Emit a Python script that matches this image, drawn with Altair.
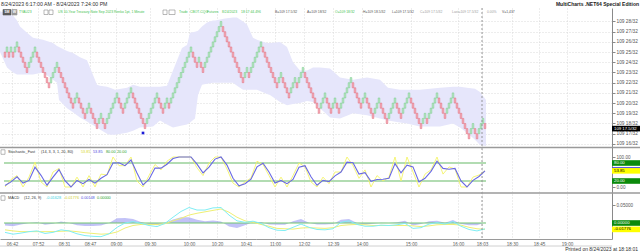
import json
import altair as alt
import pandas as pd

FONT = "Liberation Sans"

# ---------------- data ----------------
# Renko bricks (box = 0.5/32): bottom of each brick, in 64ths above 109
brick_low_64ths = [
    49, 50, 49, 50, 49, 50, 51, 50, 49, 48,
    47, 46, 47, 48, 49, 50, 49, 48, 47, 46,
    45, 44, 43, 44, 45, 46, 47, 46, 45, 44,
    43, 42, 41, 40, 39, 40, 41, 40, 39, 38,
    37, 38, 39, 38, 37, 36, 35, 36, 37, 36,
    35, 36, 37, 38, 39, 40, 41, 40, 39, 38,
    39, 40, 41, 42, 41, 40, 39, 38, 37, 36,
    35, 36, 37, 38, 39, 40, 41, 40, 39, 38,
    39, 40, 39, 40, 41, 42, 43, 44, 45, 46,
    47, 48, 49, 50, 49, 48, 47, 48, 47, 46,
    47, 48, 49, 50, 51, 52, 53, 54, 55, 54,
    53, 52, 51, 50, 49, 48, 47, 46, 45, 44,
    45, 46, 45, 46, 47, 48, 49, 50, 51, 50,
    49, 48, 47, 46, 45, 44, 43, 44, 45, 44,
    43, 42, 41, 42, 43, 44, 43, 44, 45, 46,
    45, 44, 43, 42, 41, 40, 39, 38, 39, 40,
    41, 40, 39, 38, 39, 40, 39, 38, 39, 40,
    41, 42, 43, 44, 43, 42, 41, 40, 39, 40,
    41, 40, 39, 38, 37, 38, 39, 40, 39, 38,
    37, 36, 37, 38, 39, 40, 39, 38, 37, 38,
    39, 40, 41, 40, 39, 38, 37, 36, 35, 36,
    37, 36, 37, 38, 39, 40, 41, 40, 39, 38,
    37, 38, 39, 40, 41, 40, 39, 38, 37, 36,
    35, 34, 33, 34, 35, 34, 33, 34, 35, 36,
    35,
]

# Bollinger-style envelope (in 32nds above 109) at bar positions
band_bar = [
    -2, 1.5, 4.5, 6.5, 8, 11.5, 14.5, 19.5, 24.5, 26.5,
    27.5, 31.5, 34.5, 38, 41.5, 43, 44, 46.5, 48, 51.5,
    53, 55.5, 61.5, 64.5, 68, 74.5, 78, 81.5, 84.5, 89,
    91.5, 93, 95.5, 97, 99, 101.5, 104.5, 105.5, 110.5, 114.5,
    116.5, 119.5, 121.5, 124.5, 126.5, 131.5, 133, 138, 141.5, 144.5,
    148, 151.5, 154.5, 158, 163, 168, 174.5, 181.5, 188, 192,
    198, 201.5, 208, 218, 224.5, 228, 231.5, 235.5, 238, 241,
]
band_upper_32 = [
    29.0, 28.8, 28.6, 28.1, 27.5, 26.9, 26.4, 26.2, 25.9, 25.6,
    25.5, 25.1, 24.9, 24.5, 24.2, 23.5, 23.0, 21.8, 21.7, 21.6,
    21.5, 21.3, 21.5, 21.8, 21.6, 21.6, 21.6, 21.7, 23.2, 25.4,
    25.7, 26.9, 27.0, 27.1, 27.5, 27.9, 28.1, 28.1, 28.3, 28.4,
    28.4, 28.0, 27.7, 26.4, 26.2, 25.9, 25.9, 26.0, 25.5, 24.0,
    23.2, 23.2, 23.5, 23.5, 23.4, 22.5, 22.3, 22.5, 22.3, 21.5,
    21.3, 21.3, 21.3, 21.5, 21.6, 21.6, 21.5, 21.4, 21.1, 20.3,
]
band_lower_32 = [
    25.0, 23.5, 23.0, 22.8, 22.8, 22.8, 22.8, 23.0, 22.3, 22.0,
    20.3, 19.5, 19.1, 18.6, 18.2, 18.0, 17.9, 17.6, 17.4, 17.0,
    16.9, 16.9, 17.1, 17.3, 17.6, 17.7, 18.3, 17.9, 17.6, 17.8,
    17.9, 18.1, 18.5, 20.8, 21.8, 21.9, 22.0, 22.0, 22.0, 22.0,
    21.7, 21.3, 21.3, 21.3, 21.3, 20.9, 20.8, 20.1, 19.8, 19.9,
    20.0, 20.2, 20.1, 19.5, 18.6, 18.5, 19.0, 18.8, 18.5, 18.3,
    18.1, 18.0, 17.7, 17.7, 18.0, 17.6, 17.1, 16.4, 15.9, 15.8,
]

signal_dot_bar = [69.5]
signal_dot_32 = [17.07]
last_price_32 = 17.5
price_ticks_32 = [16, 17, 18, 19, 20, 21, 22, 23, 24, 25, 26, 27, 28]

# Stochastic_Fast, sampled every third brick
stoch_bar = list(range(0, 241, 3))
stoch_fastk = [
    0, 25, 38, 0, 33, 83, 17, 0, 50, 62,
    0, 0, 33, 0, 38, 0, 43, 40, 100, 71,
    71, 100, 20, 0, 38, 75, 57, 86, 100, 100,
    100, 100, 64, 38, 80, 100, 100, 60, 13, 0,
    17, 30, 86, 75, 38, 0, 33, 0, 38, 80,
    67, 17, 0, 33, 11, 50, 50, 100, 71, 29,
    57, 0, 38, 20, 33, 100, 20, 100, 50, 0,
    43, 57, 100, 43, 67, 60, 0, 0, 33, 40,
    54,
]
stoch_fastd = [
    5, 17, 34, 13, 22, 66, 39, 6, 33, 58,
    21, 0, 22, 11, 25, 13, 29, 41, 80, 81,
    71, 90, 47, 7, 25, 63, 63, 76, 95, 100,
    100, 100, 76, 47, 66, 93, 100, 73, 29, 4,
    11, 26, 67, 79, 50, 13, 22, 11, 25, 66,
    71, 34, 6, 22, 18, 37, 50, 83, 81, 43,
    48, 19, 25, 26, 29, 78, 47, 73, 67, 17,
    29, 52, 86, 62, 59, 62, 20, 0, 22, 35,
    54,
]
stoch_levels = [80, 20]
stoch_last_k = 53.85
stoch_last_d = 53.85

# MACD (12, 26, 9), sampled every fourth brick
macd_bar = list(range(0, 241, 4))
macd_line = [
    -0.026, -0.031, -0.028, -0.024, -0.022, -0.029, -0.026, -0.019, -0.022, -0.030,
    -0.035, -0.037, -0.038, -0.030, -0.012, 0.000, 0.004, -0.001, -0.007, -0.010,
    -0.001, 0.016, 0.032, 0.043, 0.036, 0.036, 0.042, 0.043, 0.022, 0.006,
    0.002, 0.005, -0.001, -0.013, -0.020, -0.021, -0.012, -0.003, -0.012, -0.018,
    -0.019, -0.016, 0.002, 0.006, -0.004, -0.009, -0.009, -0.006, -0.007, -0.005,
    -0.001, -0.015, -0.013, -0.003, 0.001, -0.003, 0.004, -0.009, -0.018, -0.022,
    -0.01628,
]
macd_signal = [
    -0.019, -0.022, -0.024, -0.024, -0.024, -0.024, -0.024, -0.023, -0.022, -0.024,
    -0.027, -0.029, -0.031, -0.030, -0.025, -0.014, -0.007, -0.004, -0.004, -0.004,
    -0.002, 0.006, 0.013, 0.022, 0.027, 0.031, 0.035, 0.039, 0.030, 0.016,
    0.006, 0.002, -0.004, -0.009, -0.015, -0.016, -0.017, -0.014, -0.013, -0.014,
    -0.015, -0.013, -0.007, -0.005, -0.004, -0.005, -0.007, -0.007, -0.007, -0.007,
    -0.007, -0.008, -0.010, -0.008, -0.005, -0.004, -0.004, -0.006, -0.012, -0.016,
    -0.01776,
]
macd_hist = [
    -0.007, -0.009, -0.004, 0.000, 0.002, -0.005, -0.002, 0.004, 0.000, -0.006,
    -0.008, -0.008, -0.007, 0.000, 0.013, 0.014, 0.011, 0.003, -0.003, -0.006,
    0.001, 0.010, 0.016, 0.016, 0.009, 0.005, 0.007, 0.004, -0.010, -0.014,
    -0.006, 0.003, 0.003, -0.004, -0.005, -0.005, 0.005, 0.011, 0.001, -0.004,
    -0.004, -0.003, 0.009, 0.011, 0.000, -0.004, -0.002, 0.001, 0.000, 0.002,
    0.006, -0.007, -0.003, 0.005, 0.006, 0.001, 0.008, -0.003, -0.006, -0.006,
    0.00148,
]
macd_zero = 0.0

# time scale
time_tick_bar = [4, 17, 30, 43, 56, 73, 92.5, 106.5, 121, 135.5, 150, 164.5,
                 179, 203.5, 227, 239, 254, 267.5, 281.5]
time_tick_label = ["06:42", "07:52", "08:31", "08:47", "09:00", "09:30", "10:00",
                   "10:20", "10:41", "11:00", "12:02", "12:39", "14:00", "15:00",
                   "16:00", "18:03", "18:30", "18:45", "19:00"]
session_break_bar = [239]

# ---------------- layout ----------------
W, H = 612, 231  # plot area: absolute y 8 .. 239
xs = alt.Scale(domain=[-2, 304], nice=False, zero=False)
price_scale = alt.Scale(domain=[6.676, 29.3235], nice=False, zero=False)
stoch_scale = alt.Scale(domain=[-173.333, 596.667], nice=False, zero=False)
macd_scale = alt.Scale(domain=[-0.044444, 0.597222], nice=False, zero=False)

GRID = dict(gridColor="#d2d2d2", gridDash=[1, 2], gridWidth=0.8)
x_label_expr = f"{json.dumps(time_tick_label)}[indexof({json.dumps(time_tick_bar)}, datum.value)]"
X_AXIS = alt.Axis(values=time_tick_bar, labelExpr=x_label_expr, grid=True, ticks=False,
                  domainColor="#9a9a9a", labelFontSize=4.6, labelColor="#555555",
                  labelFont=FONT, labelPadding=2, title=None, labelOverlap=False,
                  labelFlush=False, **GRID)
PRICE_AXIS = alt.Axis(orient="right", values=price_ticks_32,
                      labelExpr="'109 ' + datum.value + '/32'", grid=True, tickSize=3,
                      tickColor="#8a8a8a", domainColor="#8a8a8a", labelFontSize=4.8,
                      labelColor="#555555", labelFont=FONT, labelPadding=1, title=None,
                      offset=0, labelOverlap=False, labelFlush=False, **GRID)
STOCH_AXIS = alt.Axis(orient="right", values=[0, 100], format=".2f", grid=False,
                      domain=False, tickSize=3, tickColor="#8a8a8a", labelFontSize=4.6,
                      labelColor="#555555", labelFont=FONT, labelPadding=1, title=None,
                      offset=0, labelOverlap=False, labelFlush=False)
MACD_AXIS = alt.Axis(orient="right", values=[0.05], format=".5f", grid=False,
                     domain=False, tickSize=3, tickColor="#8a8a8a", labelFontSize=4.6,
                     labelColor="#555555", labelFont=FONT, labelPadding=1, title=None,
                     offset=0, labelOverlap=False, labelFlush=False)


def X(f):
    return alt.X(f, type="quantitative", scale=xs, axis=X_AXIS)


def PY(f):
    return alt.Y(f, type="quantitative", scale=price_scale, axis=PRICE_AXIS)


def SY(f):
    return alt.Y(f, type="quantitative", scale=stoch_scale, axis=STOCH_AXIS)


def MY(f):
    return alt.Y(f, type="quantitative", scale=macd_scale, axis=MACD_AXIS)


BOX = "M-1,-0.2H1V0.2H-1Z"


def value_box(value, label, bg, fg, yfn):
    d = pd.DataFrame({"v": [value], "t": [label]})
    b = alt.Chart(d).mark_point(shape=BOX, size=784, filled=True, opacity=1,
                                color=bg, strokeWidth=0).encode(x=alt.value(626), y=yfn("v"))
    t = alt.Chart(d).mark_text(font=FONT, fontSize=4.3, color=fg, align="left",
                               baseline="middle").encode(x=alt.value(614), y=yfn("v"),
                                                         text="t:N")
    return [b, t]


# ---------------- price panel ----------------
bricks = pd.DataFrame({"bar": list(range(len(brick_low_64ths))), "low64": brick_low_64ths})
bricks["lo"] = bricks["low64"] / 2.0
bricks["hi"] = (bricks["low64"] + 1) / 2.0
prev = [None] + brick_low_64ths[:-1]
bricks["dir"] = ["up" if (p is not None and c > p) else "down"
                 for c, p in zip(brick_low_64ths, prev)]
bricks["x0"] = bricks["bar"] + 0.1
bricks["x1"] = bricks["bar"] + 0.9

band = pd.DataFrame({"bar": band_bar, "up": band_upper_32, "lo": band_lower_32})

band_layer = alt.Chart(band).mark_area(color="#e6e6fb", opacity=1).encode(
    x=X("bar"), y=PY("lo"), y2=alt.Y2("up"))
brick_layer = alt.Chart(bricks).mark_rect(strokeWidth=0.55).encode(
    x=X("x0"), x2=alt.X2("x1"), y=PY("lo"), y2=alt.Y2("hi"),
    fill=alt.Fill("dir:N", scale=alt.Scale(domain=["up", "down"],
                                           range=["#c2eaca", "#f6b4bd"]), legend=None),
    stroke=alt.Stroke("dir:N", scale=alt.Scale(domain=["up", "down"],
                                               range=["#74c987", "#e2687b"]), legend=None))
dot_layer = alt.Chart(pd.DataFrame({"bar": signal_dot_bar, "p": signal_dot_32})).mark_square(
    size=7, color="#1c1cd8", opacity=1).encode(x=X("bar"), y=PY("p"))

price_group = alt.layer(band_layer, brick_layer, dot_layer,
                        *value_box(last_price_32, "109 17.5/32", "#000000", "#ffffff", PY))

# ---------------- stochastic panel ----------------
st = pd.DataFrame({"bar": stoch_bar, "k": stoch_fastk, "d": stoch_fastd})
st["x"] = st["bar"] + 0.5
lv = pd.DataFrame({"level": stoch_levels, "x0": [0] * len(stoch_levels),
                   "x1": [len(brick_low_64ths)] * len(stoch_levels)})
lv_layer = alt.Chart(lv).mark_rule(color="#b2dcb2", strokeWidth=1.8).encode(
    x=X("x0"), x2=alt.X2("x1"), y=SY("level"))
k_layer = alt.Chart(st).mark_line(color="#f4f46a", strokeWidth=0.9).encode(x=X("x"), y=SY("k"))
d_layer = alt.Chart(st).mark_line(color="#6868e4", strokeWidth=1.1).encode(x=X("x"), y=SY("d"))
stoch_group = alt.layer(
    lv_layer, k_layer, d_layer,
    *value_box(stoch_levels[0], f"{stoch_levels[0]:.2f}", "#0b8a0b", "#ffffff", SY),
    *value_box(stoch_last_d + 3, "", "#4040e0", "#ffffff", SY),
    *value_box(stoch_last_k, f"{stoch_last_k:.2f}", "#ffff00", "#000000", SY),
    *value_box(stoch_levels[1], f"{stoch_levels[1]:.2f}", "#0b8a0b", "#ffffff", SY),
)

# ---------------- MACD panel ----------------
md = pd.DataFrame({"bar": macd_bar, "m": macd_line, "s": macd_signal, "h": macd_hist})
md["x"] = md["bar"] + 0.5
md["zero"] = macd_zero
zr = pd.DataFrame({"z": [macd_zero], "x0": [0], "x1": [len(brick_low_64ths)]})
hist_layer = alt.Chart(md).mark_area(color="#9a9af2", opacity=0.6).encode(
    x=X("x"), y=MY("h"), y2=alt.Y2("zero"))
zero_layer = alt.Chart(zr).mark_rule(color="#70c470", strokeWidth=1.0).encode(
    x=X("x0"), x2=alt.X2("x1"), y=MY("z"))
sig_layer = alt.Chart(md).mark_line(color="#efef74", strokeWidth=1.0).encode(x=X("x"), y=MY("s"))
mac_layer = alt.Chart(md).mark_line(color="#80eef4", strokeWidth=1.0).encode(x=X("x"), y=MY("m"))
macd_group = alt.layer(
    hist_layer, zero_layer, sig_layer, mac_layer,
    *value_box(macd_zero, f"{macd_zero:.5f}", "#0b8a0b", "#ffffff", MY),
    *value_box(macd_signal[-1], f"{macd_signal[-1]:.5f}", "#ffff00", "#000000", MY),
)

# ---------------- chrome (titles, header rows, separators) ----------------
session_layer = alt.Chart(pd.DataFrame({"bar": session_break_bar})).mark_rule(
    color="#8c8c8c", strokeDash=[2, 2], strokeWidth=0.9).encode(
    x=X("bar"), y=alt.value(0), y2=alt.value(H))

chrome = []


def rule_px(x1, x2, y, color, width):
    chrome.append(alt.Chart(pd.DataFrame({"a": [0]})).mark_rule(
        color=color, strokeWidth=width).encode(
        x=alt.value(x1), x2=alt.value(x2), y=alt.value(y)))


def rect_px(x1, x2, y1, y2, fill, stroke):
    chrome.append(alt.Chart(pd.DataFrame({"a": [0]})).mark_rect(
        color=fill, stroke=stroke, strokeWidth=0.6).encode(
        x=alt.value(x1), x2=alt.value(x2), y=alt.value(y1), y2=alt.value(y2)))


def text_px(t, x, y, size, color, weight="normal", align="left"):
    chrome.append(alt.Chart(pd.DataFrame({"t": [t]})).mark_text(
        font=FONT, fontSize=size, fontWeight=weight, align=align, baseline="middle",
        color=color).encode(x=alt.value(x), y=alt.value(y), text="t:N"))


rule_px(0, 640, 139.5, "#9a9a9a", 1.6)
rule_px(0, 640, 185.0, "#9a9a9a", 1.6)
rule_px(0, 612, 238.0, "#c4c4c4", 0.8)

GREEN_T = "#3fbf4f"
DARK_T = "#555555"
LIGHT_T = "#a0a0a0"

text_px("8/24/2023 6:17:00 AM - 8/24/2023 7:24:00 PM", 1, -4.3, 5.2, "#303030")
text_px("MultiCharts .NET64 Special Edition", 639, -4.3, 5.0, "#202020", "bold", "right")

rect_px(3, 11, 1.5, 7, "#5c5c5c", "#5c5c5c")
rect_px(12, 17, 1.5, 7, "#9a9a9a", "#9a9a9a")
for a, b in [(44, 48), (49, 53), (163, 167), (169, 175)]:
    rect_px(a, b, 2, 6.5, "#ffffff", "#8a8a8a")
text_px("5M", 7, 4.3, 3.6, "#ffffff", "bold", "center")
text_px("W", 14.5, 4.3, 3.6, "#ffffff", "bold", "center")

status_items = [
    ("TYAU23", 19, GREEN_T),
    ("US 10-Year Treasury Note Sep 2023  Renko 1pt, 1 Minute", 58, GREEN_T),
    ("Trade", 179, GREEN_T), ("CBOT-CQG", 190, GREEN_T), ("Futures", 207, GREEN_T),
    ("8/24/2023", 222, GREEN_T), ("18:17:44.496", 241, GREEN_T),
    ("B=109 17.5/32", 275, DARK_T), ("A=109 18/32", 307, DARK_T),
    ("O=109 18/32", 335, GREEN_T), ("H=109 18.5/32", 363, DARK_T),
    ("L=109 17.5/32", 392, DARK_T), ("C=109 17.5/32", 420, LIGHT_T),
    ("Last=109 17.5/32", 452, LIGHT_T), ("0.00%", 487, LIGHT_T), ("V=1,437", 502, DARK_T),
]
for t, x, c in status_items:
    text_px(t, x, 4.3, 3.4, c)

rect_px(1, 5, 141.8, 146.3, "#ffffff", "#8a8a8a")
stoch_items = [
    ("Stochastic_Fast", 8, "#333333"), ("(14, 3, 3, 1, 20, 80)", 41, "#333333"),
    (f"{stoch_last_k:.2f}", 81, "#d6d62a"), (f"{stoch_last_d:.2f}", 93, "#4848e0"),
    (f"{stoch_levels[0]:.2f}", 106, "#2e9e2e"), (f"{stoch_levels[1]:.2f}", 117, "#2e9e2e"),
]
for t, x, c in stoch_items:
    text_px(t, x, 144.0, 3.8, c)

rect_px(1, 5, 187.8, 192.3, "#ffffff", "#8a8a8a")
macd_items = [
    ("MACD", 8, "#333333"), ("(12, 26, 9)", 24, "#333333"),
    (f"{macd_line[-1]:.5f}", 46, "#38d0e0"), (f"{macd_signal[-1]:.5f}", 64, "#d0d030"),
    (f"{macd_hist[-1]:.5f}", 81, "#5050e0"), (f"{macd_zero:.5f}", 97, "#2e9e2e"),
]
for t, x, c in macd_items:
    text_px(t, x, 190.0, 3.8, c)

text_px("Printed on 8/24/2023 at 18:18:01", 638, 240.6, 5.0, "#303030", "normal", "right")

chart = alt.layer(
    price_group, stoch_group, macd_group, session_layer, *chrome
).resolve_scale(y="independent").properties(
    width=W, height=H,
    padding={"left": 0, "top": 8, "right": 28, "bottom": 13},
    autosize=alt.AutoSizeParams(type="none"),
    background="#ffffff",
).configure_view(stroke=None)

chart.save("out.html", embed_options={"renderer": "svg", "actions": False})
